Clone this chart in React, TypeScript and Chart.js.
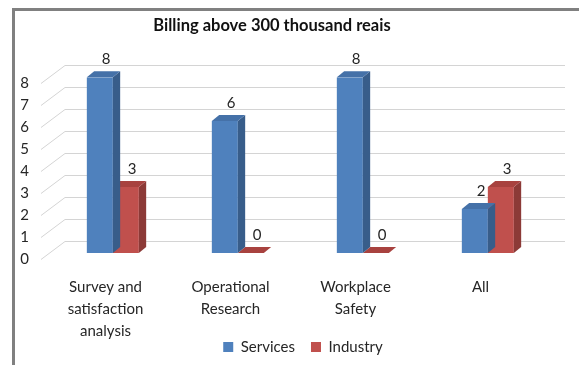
import React, { useEffect, useRef } from "react";
import { Chart, registerables } from "chart.js";

Chart.register(...registerables);

const titleText = "Billing above 300 thousand reais";
const categories: (string | string[])[] = [
  ["Survey and", "satisfaction", "analysis"],
  ["Operational", "Research"],
  ["Workplace", "Safety"],
  "All",
];
const seriesNames = ["Services", "Industry"];
const servicesValues = [8, 6, 8, 2];
const industryValues = [3, 0, 0, 3];
const yTickValues = [0, 1, 2, 3, 4, 5, 6, 7, 8];

const FONT = "Lato, 'Open Sans', sans-serif";
const TEXT = "#262626";

// 3D depth vector (label plane -> back wall)
const DEPTH = { x: 22, y: -18 };
const FRONT = { x: DEPTH.x / 3, y: DEPTH.y / 3 };
const BAR_D = { x: DEPTH.x / 3, y: DEPTH.y / 3 };

const frontColors = ["#4f81bd", "#c0504d"];
const sideColors = ["#385d8a", "#8c3a37"];
const topColors = ["#4571a8", "#a8423f"];

const fake3d = {
  id: "fake3d",
  afterLayout(chart: any) {
    if (chart.legend) {
      chart.legend.left += 24;
      chart.legend.right += 24;
    }
    if (chart.titleBlock) {
      chart.titleBlock.left -= 7;
      chart.titleBlock.right -= 7;
    }
  },
  beforeDatasetsDraw(chart: any) {
    const { ctx, chartArea, scales } = chart;
    const ys = scales.y;
    ctx.save();
    ctx.strokeStyle = "#d4d4d4";
    ctx.lineWidth = 1;
    ys.ticks.forEach((t: any) => {
      const py = Math.round(ys.getPixelForValue(t.value)) + 0.5;
      ctx.beginPath();
      ctx.moveTo(chartArea.left - 2, py);
      ctx.lineTo(chartArea.left + DEPTH.x, py + DEPTH.y);
      ctx.lineTo(chartArea.right + DEPTH.x, py + DEPTH.y);
      ctx.stroke();
    });
    ctx.restore();
  },
  beforeDatasetDraw(chart: any) {
    chart.ctx.save();
    chart.ctx.translate(FRONT.x, FRONT.y);
  },
  afterDatasetDraw(chart: any, args: any) {
    const ctx = chart.ctx;
    const meta = chart.getDatasetMeta(args.index);
    meta.data.forEach((bar: any) => {
      const { x, y, base, width } = bar.getProps(["x", "y", "base", "width"], true);
      const l = x - width / 2;
      const r = x + width / 2;
      // right side
      ctx.fillStyle = sideColors[args.index];
      ctx.beginPath();
      ctx.moveTo(r, y);
      ctx.lineTo(r + BAR_D.x, y + BAR_D.y);
      ctx.lineTo(r + BAR_D.x, base + BAR_D.y);
      ctx.lineTo(r, base);
      ctx.closePath();
      ctx.fill();
      // top
      ctx.fillStyle = topColors[args.index];
      ctx.beginPath();
      ctx.moveTo(l, y);
      ctx.lineTo(l + BAR_D.x, y + BAR_D.y);
      ctx.lineTo(r + BAR_D.x, y + BAR_D.y);
      ctx.lineTo(r, y);
      ctx.closePath();
      ctx.fill();
    });
    ctx.restore();
  },
  afterDatasetsDraw(chart: any) {
    const ctx = chart.ctx;
    ctx.save();
    ctx.font = `15px ${FONT}`;
    ctx.fillStyle = TEXT;
    ctx.textAlign = "center";
    ctx.textBaseline = "middle";
    chart.data.datasets.forEach((ds: any, di: number) => {
      const meta = chart.getDatasetMeta(di);
      meta.data.forEach((bar: any, i: number) => {
        const { x, y } = bar.getProps(["x", "y"], true);
        ctx.fillText(String(ds.data[i]), x + 13.5, y - 23.5);
      });
    });
    ctx.restore();
  },
};

export default function App() {
  const ref = useRef<HTMLCanvasElement | null>(null);
  useEffect(() => {
    if (!ref.current) return;
    const chart = new Chart(ref.current, {
      type: "bar",
      data: {
        labels: categories as any,
        datasets: [
          {
            label: seriesNames[0],
            data: servicesValues,
            backgroundColor: frontColors[0],
            categoryPercentage: 0.416,
            barPercentage: 1,
          },
          {
            label: seriesNames[1],
            data: industryValues,
            backgroundColor: frontColors[1],
            categoryPercentage: 0.416,
            barPercentage: 1,
          },
        ],
      },
      options: {
        responsive: false,
        animation: false,
        devicePixelRatio: 1,
        layout: { padding: { left: 15, right: 36, top: 11, bottom: 0.5 } },
        plugins: {
          title: {
            display: true,
            text: titleText,
            color: "#111111",
            font: { family: FONT, size: 16.5, weight: "bold", lineHeight: 1.1 },
            padding: { top: 6, bottom: 48 },
          },
          legend: {
            position: "bottom",
            labels: {
              boxWidth: 10,
              boxHeight: 10,
              padding: 16,
              color: TEXT,
              font: { family: FONT, size: 15 },
            },
          },
          tooltip: { enabled: false },
        },
        scales: {
          x: {
            grid: { display: false, drawTicks: false },
            border: { display: false },
            ticks: {
              color: TEXT,
              padding: 17,
              maxRotation: 0,
              autoSkip: false,
              font: { family: FONT, size: 15, lineHeight: "22px" as any },
            },
            afterFit: (s: any) => {
              s.height = 64.5;
              s._computeLabelArea = () => undefined;
            },
          },
          y: {
            min: 0,
            max: 8,
            afterBuildTicks: (s: any) => {
              s.ticks = yTickValues.map((v) => ({ value: v }));
            },
            grid: { display: false, drawTicks: false },
            border: { display: false },
            ticks: {
              color: TEXT,
              padding: 14,
              autoSkip: false,
              font: { family: FONT, size: 15 },
            },
            afterFit: (s: any) => {
              s.width = 28;
            },
          },
        },
      } as any,
      plugins: [fake3d],
    });
    return () => chart.destroy();
  }, []);

  return (
    <div style={{ position: "absolute", left: 0, top: 0, width: 579, height: 365, background: "#ffffff" }}>
      <canvas ref={ref} width={579} height={365} style={{ display: "block" }} />
      <div style={{ position: "absolute", left: 12, top: 8, width: 567, height: 3, background: "#808080" }} />
      <div style={{ position: "absolute", left: 12, top: 8, width: 3, height: 357, background: "#808080" }} />
    </div>
  );
}
